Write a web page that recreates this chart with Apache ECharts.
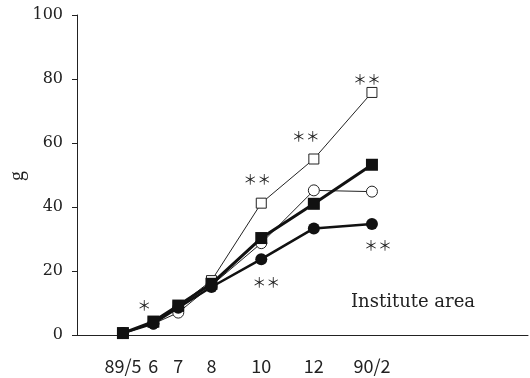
<!DOCTYPE html>
<html>
<head>
<meta charset="utf-8">
<script src="https://cdn.jsdelivr.net/npm/echarts@6/dist/echarts.min.js"></script>
<style>
  html, body { margin: 0; padding: 0; background: #fff; }
  #chart { width: 530px; height: 378px; }
</style>
</head>
<body>
<div id="chart"></div>
<script>
// Sampling times in months from 1989/1 (89/5 ... 90/2)
const sampleMonths = [5, 6.1, 7, 8.2, 10, 11.9, 14];
const sampleLabels = ['89/5', '6', '7', '8', '10', '12', '90/2'];

// Weights (g) for the four treatments
const openSquare   = [0.6, 4.0, 9.0, 17.0, 41.2, 55.0, 75.8];
const openCircle   = [0.6, 3.5, 7.0, 15.5, 28.7, 45.2, 44.8];
const filledCircle = [0.6, 3.6, 8.5, 15.0, 23.7, 33.3, 34.7];
const filledSquare = [0.6, 4.2, 9.2, 16.0, 30.3, 41.0, 53.2];

// Significance marks attached to points
const marksOpenSquare   = ['', '', '', '', '＊＊', '＊＊', '＊＊'];
const marksFilledCircle = ['', '', '', '', '＊＊', '', '＊＊'];
const marksFilledSquare = ['', '＊', '', '', '', '', ''];

const yTicks = [0, 20, 40, 60, 80, 100];

function build(values, marks, offsets) {
  return values.map((v, i) => {
    const item = { value: [sampleMonths[i], v] };
    if (marks && marks[i]) {
      item.label = {
        show: true,
        formatter: marks[i],
        position: 'inside',
        offset: offsets[i],
        color: '#222',
        fontFamily: 'Noto Sans CJK JP',
        fontSize: 14
      };
    }
    return item;
  });
}

const chart = echarts.init(document.getElementById('chart'));
chart.setOption({
  animation: false,
  backgroundColor: '#fff',
  grid: { left: 77, right: 2, top: 15, bottom: 43, outerBoundsMode: 'none', containLabel: false },
  title: {
    text: 'Institute area',
    left: 346,
    top: 288,
    textStyle: { fontFamily: 'DejaVu Serif', fontWeight: 'normal', fontSize: 18, color: '#222' }
  },
  // y-axis unit, set sideways
  graphic: [{
    type: 'text',
    x: 18,
    y: 176,
    rotation: Math.PI / 2,
    style: { text: 'g', font: '20px "Liberation Serif"', fill: '#222', align: 'center', verticalAlign: 'middle' }
  }],
  xAxis: {
    type: 'value',
    min: 3.34,
    max: 19.64,
    splitLine: { show: false },
    axisLine: { lineStyle: { color: '#222', width: 1 } },
    axisTick: { show: false },
    axisLabel: {
      customValues: sampleMonths,
      formatter: (v) => sampleLabels[sampleMonths.indexOf(v)] || '',
      margin: 22,
      fontFamily: 'Noto Sans CJK JP',
      fontSize: 18,
      color: '#222'
    }
  },
  yAxis: {
    type: 'value',
    min: 0,
    max: 100,
    interval: 20,
    splitLine: { show: false },
    axisLine: { show: true, lineStyle: { color: '#222', width: 1 } },
    axisTick: { show: true, length: 5, lineStyle: { color: '#222' } },
    axisLabel: {
      margin: 14,
      fontFamily: 'DejaVu Serif',
      fontSize: 16,
      color: '#222',
      formatter: (v) => (yTicks.includes(v) ? String(v) : '')
    }
  },
  series: [
    {
      name: 'open square',
      type: 'line',
      data: build(openSquare, marksOpenSquare, [[0,0],[0,0],[0,0],[0,0],[-4,-24],[-8,-23],[-5,-14]]),
      symbol: 'rect',
      symbolSize: 10,
      lineStyle: { color: '#222', width: 1 },
      itemStyle: { color: '#fff', borderColor: '#222', borderWidth: 1 },
      z: 2
    },
    {
      name: 'open circle',
      type: 'line',
      data: build(openCircle),
      symbol: 'circle',
      symbolSize: 11,
      lineStyle: { color: '#222', width: 1 },
      itemStyle: { color: '#fff', borderColor: '#222', borderWidth: 1 },
      z: 3
    },
    {
      name: 'filled circle',
      type: 'line',
      data: build(filledCircle, marksFilledCircle, [[0,0],[0,0],[0,0],[0,0],[5,23],[0,0],[6,21]]),
      symbol: 'circle',
      symbolSize: 12,
      lineStyle: { color: '#111', width: 2.5 },
      itemStyle: { color: '#111', borderColor: '#111', borderWidth: 0 },
      z: 4
    },
    {
      name: 'filled square',
      type: 'line',
      data: build(filledSquare, marksFilledSquare, [[0,0],[-9,-17],[0,0],[0,0],[0,0],[0,0],[0,0]]),
      symbol: 'rect',
      symbolSize: 12,
      lineStyle: { color: '#111', width: 3 },
      itemStyle: { color: '#111', borderColor: '#111', borderWidth: 0 },
      z: 5
    }
  ]
});
</script>
</body>
</html>
